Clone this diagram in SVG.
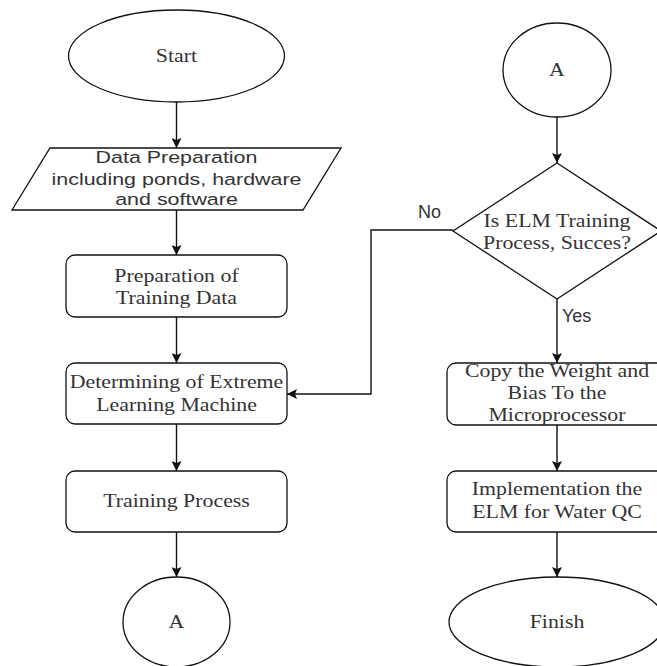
<svg xmlns="http://www.w3.org/2000/svg" width="657" height="666" viewBox="0 0 657 666">
<style>
.s{fill:#fff;stroke:#111;stroke-width:1.3}
.e{fill:none;stroke:#111;stroke-width:1.4}
.t{font-family:"Liberation Serif","Times New Roman",serif;font-size:19px;fill:#333;text-anchor:middle}
.a{font-family:"Liberation Sans",Arial,sans-serif;font-size:17px;fill:#333;text-anchor:middle}
.l{font-family:"Liberation Sans",Arial,sans-serif;font-size:18px;fill:#333}
</style>
<defs>
<marker id="ah" viewBox="0 0 10 10" refX="10" refY="5" markerWidth="10" markerHeight="10" markerUnits="userSpaceOnUse" orient="auto">
<path d="M0,0 L10,5 L0,10 L2,5 Z" fill="#111"/>
</marker>
</defs>
<rect width="657" height="666" fill="#fff"/>
<g id="connectors">
<line class="e" x1="176.5" y1="102" x2="176.5" y2="148" marker-end="url(#ah)"/>
<line class="e" x1="176.5" y1="210" x2="176.5" y2="255" marker-end="url(#ah)"/>
<line class="e" x1="176.5" y1="317" x2="176.5" y2="363" marker-end="url(#ah)"/>
<line class="e" x1="176.5" y1="424" x2="176.5" y2="471" marker-end="url(#ah)"/>
<line class="e" x1="176.5" y1="532" x2="176.5" y2="577" marker-end="url(#ah)"/>
<line class="e" x1="557" y1="117" x2="557" y2="163" marker-end="url(#ah)"/>
<polyline class="e" points="453,230 371,230 371,394 287,394" marker-end="url(#ah)"/>
<line class="e" x1="557" y1="299" x2="557" y2="363" marker-end="url(#ah)"/>
<line class="e" x1="557" y1="425" x2="557" y2="471" marker-end="url(#ah)"/>
<line class="e" x1="557" y1="532" x2="557" y2="577" marker-end="url(#ah)"/>
<text class="l" x="418" y="218">No</text>
<text class="l" x="562" y="322">Yes</text>
</g>
<g id="start">
<ellipse class="s" cx="176.5" cy="56" rx="108" ry="46"/>
<text class="t" transform="translate(176.5 62) scale(1.15 1)">Start</text>
</g>
<g id="data-prep">
<polygon class="s" points="50,148 341,148 303,210 12,210"/>
<text class="a" transform="translate(176.5 163) scale(1.26 1)">Data Preparation</text>
<text class="a" transform="translate(176.5 185) scale(1.26 1)">including ponds, hardware</text>
<text class="a" transform="translate(176.5 205) scale(1.26 1)">and software</text>
</g>
<g id="prep-training">
<rect class="s" x="66" y="255" width="221" height="62" rx="9"/>
<text class="t" transform="translate(176.5 282) scale(1.15 1)">Preparation of</text>
<text class="t" transform="translate(176.5 304) scale(1.15 1)">Training Data</text>
</g>
<g id="determining">
<rect class="s" x="66" y="363" width="221" height="61" rx="9"/>
<text class="t" transform="translate(176.5 388) scale(1.15 1)">Determining of Extreme</text>
<text class="t" transform="translate(176.5 411) scale(1.15 1)">Learning Machine</text>
</g>
<g id="training">
<rect class="s" x="66" y="471" width="221" height="61" rx="9"/>
<text class="t" transform="translate(176.5 507) scale(1.15 1)">Training Process</text>
</g>
<g id="a-left">
<ellipse class="s" cx="176.5" cy="622" rx="53.5" ry="45"/>
<text class="t" transform="translate(176.5 628) scale(1.15 1)">A</text>
</g>
<g id="a-right">
<ellipse class="s" cx="557" cy="70" rx="54" ry="47"/>
<text class="t" transform="translate(557 76) scale(1.15 1)">A</text>
</g>
<g id="decision">
<polygon class="s" points="557,163 661,231 557,299 453,231"/>
<text class="t" transform="translate(557 227) scale(1.15 1)">Is ELM Training</text>
<text class="t" transform="translate(557 249) scale(1.15 1)">Process, Succes?</text>
</g>
<g id="copy">
<rect class="s" x="447" y="363" width="221" height="62" rx="9"/>
<text class="t" transform="translate(557 377) scale(1.15 1)">Copy the Weight and</text>
<text class="t" transform="translate(557 399) scale(1.15 1)">Bias To the</text>
<text class="t" transform="translate(557 421) scale(1.15 1)">Microprocessor</text>
</g>
<g id="implementation">
<rect class="s" x="447" y="471" width="221" height="61" rx="9"/>
<text class="t" transform="translate(557 495) scale(1.15 1)">Implementation the</text>
<text class="t" transform="translate(557 518) scale(1.15 1)">ELM for Water QC</text>
</g>
<g id="finish">
<ellipse class="s" cx="557" cy="622" rx="108" ry="45"/>
<text class="t" transform="translate(557 628) scale(1.15 1)">Finish</text>
</g>
</svg>
